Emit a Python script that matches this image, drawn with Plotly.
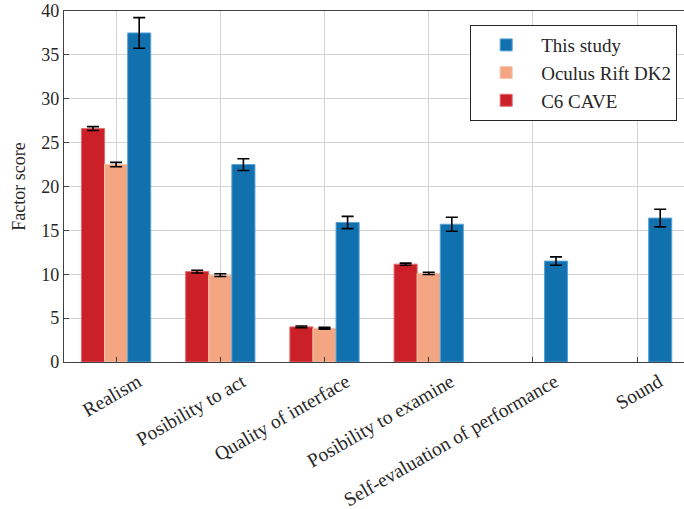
import plotly.graph_objects as go

categories = ["Realism", "Posibility to act", "Quality of interface",
              "Posibility to examine", "Self-evaluation of performance", "Sound"]

cave_mean = [26.6, 10.3, 4.0, 11.15, None, None]
cave_err = [0.22, 0.15, 0.1, 0.12, None, None]

oculus_mean = [22.5, 9.9, 3.85, 10.1, None, None]
oculus_err = [0.25, 0.15, 0.1, 0.12, None, None]

study_mean = [37.5, 22.5, 15.9, 15.7, 11.5, 16.4]
study_err = [1.75, 0.67, 0.7, 0.8, 0.48, 1.0]

FONT = "Liberation Serif"
TXT = "#262626"

series = [
    ("C6 CAVE", cave_mean, cave_err, "#cb2027", "#e06a70"),
    ("Oculus Rift DK2", oculus_mean, oculus_err, "#f4a582", "#f8c6ac"),
    ("This study", study_mean, study_err, "#1170ae", "#5aa3d3"),
]

fig = go.Figure()
for name, mean, err, color, edge in series:
    fig.add_trace(go.Bar(
        name=name, x=categories, y=mean,
        marker=dict(color=color, line=dict(color=edge, width=1)),
        error_y=dict(type="data", array=err, visible=True,
                     color="black", thickness=1.6, width=6),
    ))

fig.update_layout(
    width=684, height=509,
    margin=dict(l=64, r=0, t=11, b=147),
    paper_bgcolor="white", plot_bgcolor="white",
    barmode="group", bargap=0.335, bargroupgap=0,
    font=dict(family=FONT, size=17, color=TXT),
    legend=dict(
        traceorder="reversed",
        x=0.989, xanchor="right", y=0.96, yanchor="top",
        bordercolor=TXT, borderwidth=1, bgcolor="white",
        font=dict(family=FONT, size=19, color=TXT),
        itemwidth=60, tracegroupgap=0,
    ),
    showlegend=True,
)

fig.update_xaxes(
    range=[-0.5, 5.45],
    automargin=False,
    tickangle=-30,
    ticklabelshift=22,
    showgrid=True, gridcolor="#d2d2d2", gridwidth=1,
    showline=True, linecolor="#404040", linewidth=1.2, mirror=True,
    ticks="inside", ticklen=5, tickcolor="#404040",
    tickfont=dict(family=FONT, size=19.5, color=TXT),
)
fig.update_yaxes(
    range=[0, 40], dtick=5,
    automargin=False,
    title=dict(text="Factor score", standoff=10,
               font=dict(family=FONT, size=18, color=TXT)),
    showgrid=True, gridcolor="#d2d2d2", gridwidth=1,
    showline=True, linecolor="#404040", linewidth=1.2, mirror=True,
    ticks="inside", ticklen=5, tickcolor="#404040",
    zeroline=False,
    tickfont=dict(family=FONT, size=18, color=TXT),
)

fig.write_html("out.html")
